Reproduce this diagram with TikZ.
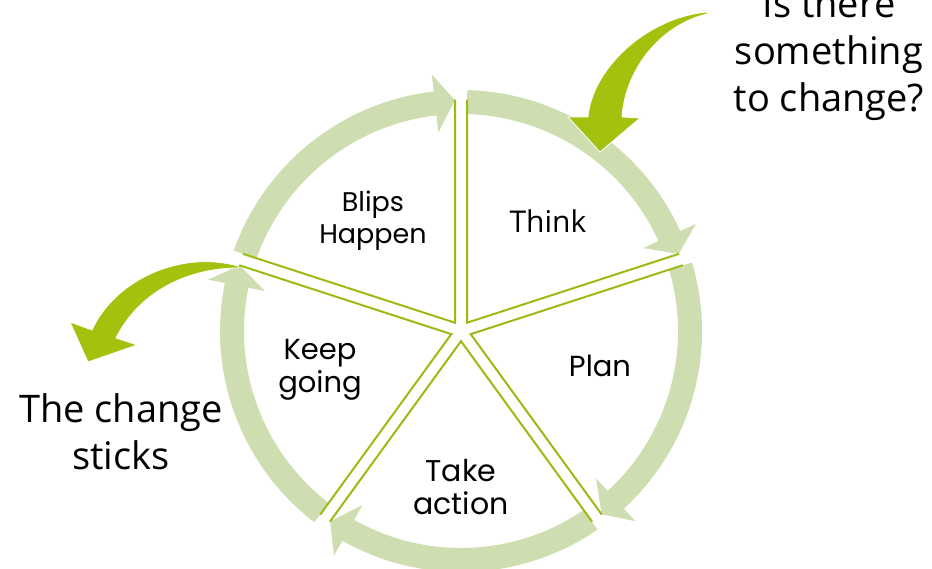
\documentclass[tikz,border=0pt]{standalone}
\usepackage{fontspec}
\usetikzlibrary{calc}
\newfontfamily\gothicfont{Poppins}
\newfontfamily\humanfont{Open Sans}
\definecolor{bandgreen}{HTML}{CEDEB0}
\definecolor{rulegreen}{HTML}{9CBB12}
\definecolor{boldgreen}{HTML}{A3C20E}
\begin{document}
\begin{tikzpicture}[x=1pt,y=1pt,
  band/.style={fill=bandgreen},
  divider/.style={draw=rulegreen, line width=2pt, line join=miter},
  bigarrow/.style={fill=boldgreen, draw=white, line width=0.8pt, line join=miter},
  steplabel/.style={font=\gothicfont\fontsize{29}{33}\selectfont, align=center, anchor=base, inner sep=0pt},
  thinklabel/.style={font=\humanfont\fontsize{30}{34}\selectfont, align=center, anchor=base, inner sep=0pt},
  sidelabel/.style={font=\humanfont\fontsize{38}{47}\selectfont, align=center, anchor=base, inner sep=0pt}]
\useasboundingbox (0,0) rectangle (932,569);
\coordinate (C) at (461,238);

% curved arrows running clockwise round the cycle
\foreach \s/\e in {88.5/19.5, 16.5/-52.5, -55.5/-124.5, -127.5/-196.5, 160.5/91.5}{
  \pgfmathsetmacro\b{\e+5}
  \fill[band] ([shift={(C)}]\s:241) arc[start angle=\s, end angle=\b, radius=241]
    -- ([shift={(C)}]\b:258) -- ([shift={(C)}]\e:231) -- ([shift={(C)}]\b:200)
    -- ([shift={(C)}]\b:217) arc[start angle=\b, end angle=\s, radius=217] -- cycle;
}

% double dividers between the five segments
\foreach \t [count=\i] in {126,54,-18,-90,-162}{
  \pgfmathsetmacro\ta{\t+36}
  \pgfmathsetmacro\tb{\t-36}
  \coordinate (v\i) at ($(C)+(\t:10.2)$);
  \coordinate (a\i) at ($(v\i)+(\ta:223)$);
  \coordinate (b\i) at ($(v\i)+(\tb:223)$);
  \draw[divider] (a\i) -- (v\i) -- (b\i);
}

% entry arrow at the top right
\fill[bigarrow] (707,557) .. controls (645,551) and (592,499) .. (588,452)
  -- (568,452) -- (600,417) -- (640,451) -- (622,452)
  .. controls (625,499) and (660,544) .. (707,555) -- cycle;

% exit arrow at the left
\fill[bigarrow] (238,303) .. controls (180,319) and (115,289) .. (92,239)
  -- (70,247) -- (88,207) -- (137,224) -- (116,231)
  .. controls (140,279) and (190,301) .. (238,301) -- cycle;

% segment labels (anchored on the baseline of their last line)
\node[steplabel, font=\gothicfont\fontsize{27}{32}\selectfont] (blips) at (373,325) {Blips\\Happen};
\node[thinklabel] (think) at (548,336) {Think};
\node[steplabel] (plan) at (600,192) {Plan};
\node[steplabel, font=\gothicfont\fontsize{30}{33}\selectfont] (take) at (461,54) {Take\\action};
\node[steplabel] (keep) at (320,176) {Keep\\going};

% side texts
\node[sidelabel] (question) at (829,457) {Is there\\something\\to change?};
\node[sidelabel] (sticks) at (121,99) {The change\\sticks};
\end{tikzpicture}
\end{document}
